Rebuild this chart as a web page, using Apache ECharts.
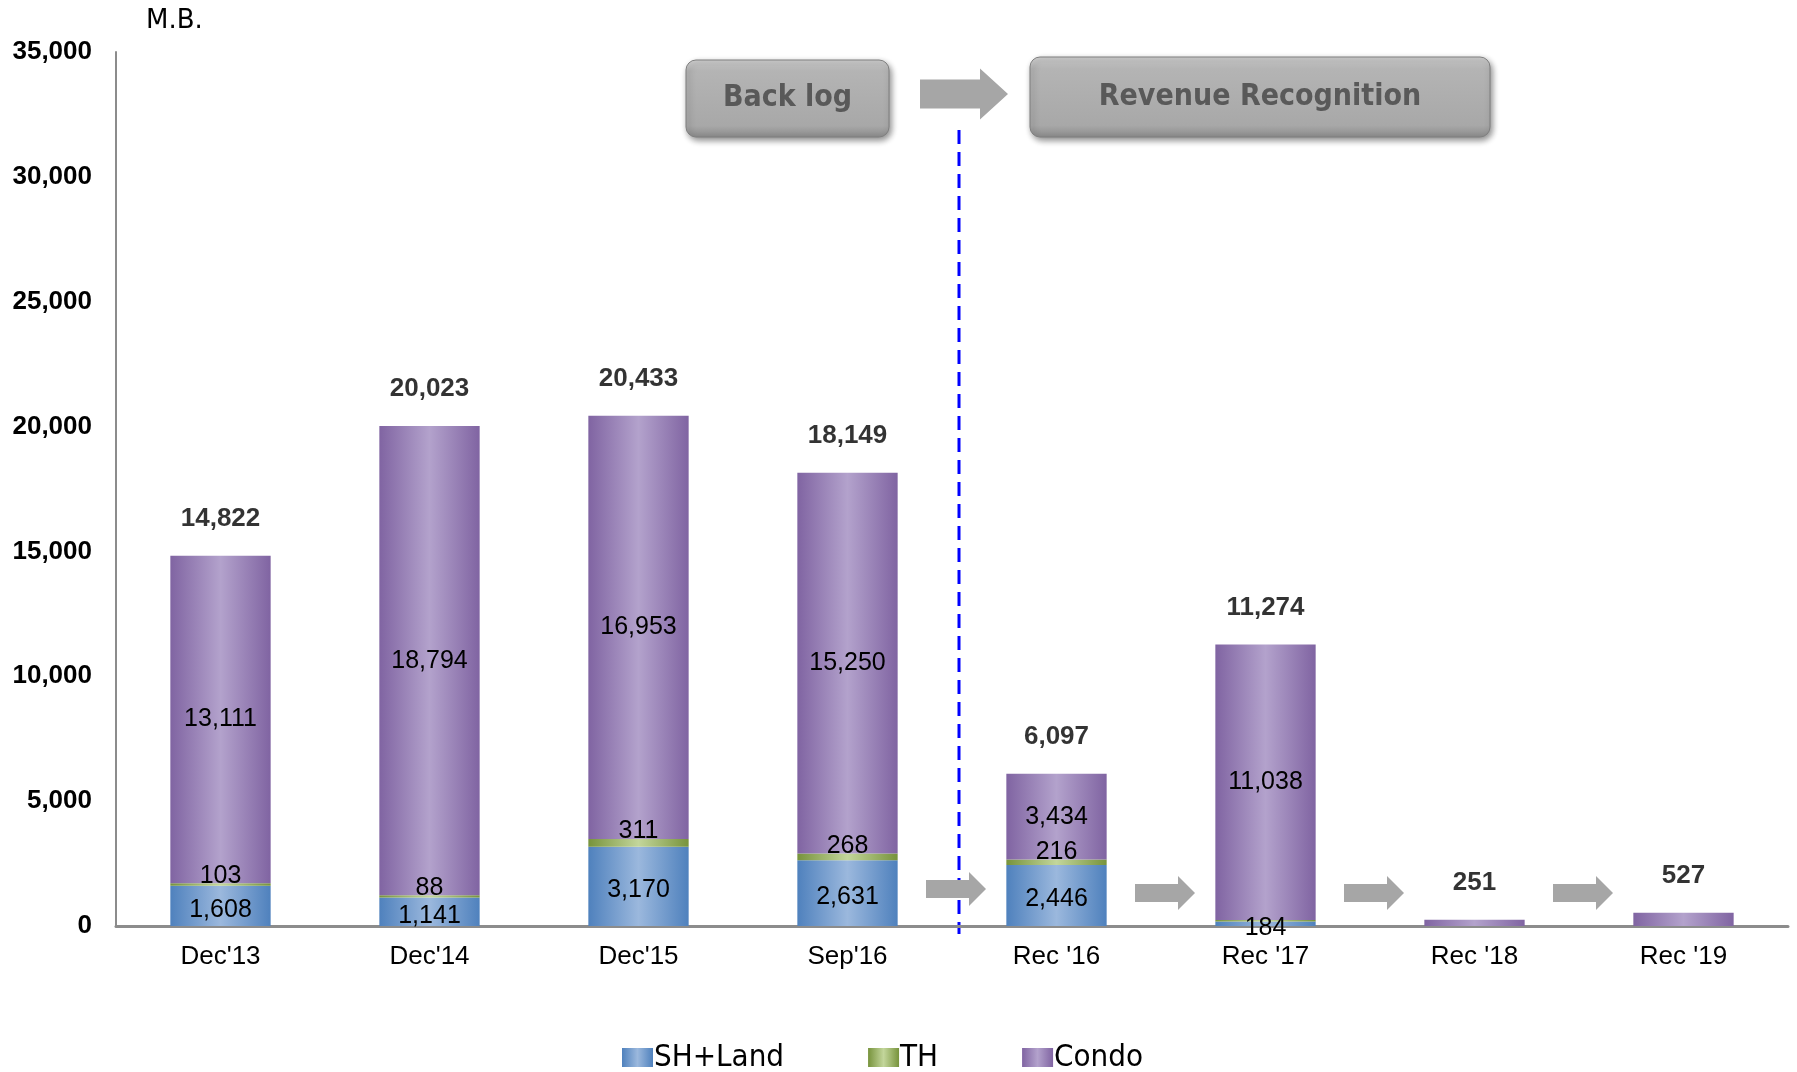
<!DOCTYPE html>
<html>
<head>
<meta charset="utf-8">
<script src="https://cdn.jsdelivr.net/npm/echarts@6/dist/echarts.min.js"></script>
<style>
  html, body { margin: 0; padding: 0; background: #fff; }
  #chart { width: 1797px; height: 1072px; }
</style>
</head>
<body>
<div id="chart"></div>
<script>
const categories = ["Dec'13", "Dec'14", "Dec'15", "Sep'16", "Rec '16", "Rec '17", "Rec '18", "Rec '19"];
const shLand = [1608, 1141, 3170, 2631, 2446, 184, 0, 0];
const th = [103, 88, 311, 268, 216, 52, 0, 0];
const condo = [13111, 18794, 16953, 15250, 3434, 11038, 251, 527];
const totals = [14822, 20023, 20433, 18149, 6097, 11274, 251, 527];
const yMax = 35000;
const yStep = 5000;

const chartDom = document.getElementById('chart');
const myChart = echarts.init(chartDom);

const fmt = v => v.toLocaleString('en-US');
const grad = (edge, mid) => new echarts.graphic.LinearGradient(0, 0, 1, 0, [
  { offset: 0, color: edge },
  { offset: 0.5, color: mid },
  { offset: 1, color: edge }
]);
const FONT = '"Liberation Sans", Arial, sans-serif';

const option = {
  animation: false,
  grid: { left: 116, right: 9, top: 52, bottom: 146 },
  legend: {
    top: 1037,
    left: 617,
    icon: 'rect',
    itemWidth: 31,
    itemHeight: 19,
    itemGap: 84,
    textStyle: { fontFamily: '"DejaVu Sans Condensed", "DejaVu Sans"', fontSize: 31, color: '#000', padding: [0, 0, 0, -4] },
    data: ['SH+Land', 'TH', 'Condo']
  },
  xAxis: {
    type: 'category',
    data: categories,
    axisLine: { lineStyle: { color: '#8c8c8c', width: 3 } },
    axisTick: { show: false },
    axisLabel: { color: '#000', fontSize: 26, fontFamily: FONT, margin: 18 }
  },
  yAxis: {
    type: 'value',
    min: 0,
    max: yMax,
    interval: yStep,
    splitLine: { show: false },
    axisLine: { show: true, lineStyle: { color: '#8c8c8c', width: 2 } },
    axisTick: { show: false },
    axisLabel: { color: '#000', fontSize: 26, fontWeight: 'bold', fontFamily: FONT, margin: 24, formatter: fmt }
  },
  series: [
    {
      name: 'SH+Land',
      type: 'bar',
      stack: 'backlog',
      barWidth: '48%',
      data: shLand,
      itemStyle: { color: grad('#4f81bd', '#9bb8dd') },
      label: {
        show: true, position: 'inside', offset: [0, 4],
        color: '#000', fontSize: 25, fontFamily: FONT,
        formatter: p => (p.value ? fmt(p.value) : '')
      }
    },
    {
      name: 'TH',
      type: 'bar',
      stack: 'backlog',
      data: th,
      itemStyle: { color: grad('#77933c', '#c3d69b') },
      label: {
        show: true, position: 'top', distance: -5,
        color: '#000', fontSize: 25, fontFamily: FONT,
        formatter: p => (p.value > 60 ? fmt(p.value) : '')
      }
    },
    {
      name: 'Condo',
      type: 'bar',
      stack: 'backlog',
      data: condo,
      itemStyle: { color: grad('#8064a2', '#b3a2cc') },
      label: {
        show: true, position: 'inside',
        color: '#000', fontSize: 25, fontFamily: FONT,
        formatter: p => (p.value > 1000 ? fmt(p.value) : '')
      }
    },
    {
      name: 'Total',
      type: 'scatter',
      data: totals,
      symbolSize: 0,
      silent: true,
      label: {
        show: true, position: 'top', distance: 24,
        color: '#000', fontSize: 26, fontWeight: 'bold', fontFamily: FONT,
        formatter: p => fmt(p.value)
      }
    }
  ]
};

option && myChart.setOption(option);

// decorations: phase boxes, arrows and the back log / recognition divider
const px = (i, v) => myChart.convertToPixel({ gridIndex: 0 }, [i, v]);
const step = px(1, 0)[0] - px(0, 0)[0];
const zeroY = px(0, 0)[1];
const divX = px(3, 0)[0] + step / 2 + 7;

const arrow = (cx, cy, len, body, head, headLen) => ({
  type: 'polygon',
  shape: {
    points: [
      [cx - len / 2, cy - body / 2], [cx + len / 2 - headLen, cy - body / 2],
      [cx + len / 2 - headLen, cy - head / 2], [cx + len / 2, cy],
      [cx + len / 2 - headLen, cy + head / 2], [cx + len / 2 - headLen, cy + body / 2],
      [cx - len / 2, cy + body / 2]
    ]
  },
  style: { fill: '#a6a6a6' },
  silent: true
});

const box = (x, y, w, h, text) => ({
  type: 'rect',
  shape: { x: x, y: y, width: w, height: h, r: 10 },
  style: {
    fill: new echarts.graphic.LinearGradient(0, 0, 0, 1, [
      { offset: 0, color: '#d0d0d0' },
      { offset: 0.15, color: '#b4b4b4' },
      { offset: 0.85, color: '#a8a8a8' },
      { offset: 1, color: '#8a8a8a' }
    ]),
    stroke: '#7f7f7f',
    lineWidth: 1,
    shadowBlur: 6,
    shadowOffsetX: 2,
    shadowOffsetY: 3,
    shadowColor: 'rgba(0,0,0,0.45)'
  },
  textContent: {
    style: { text: text, fill: '#595959', fontSize: 30, fontWeight: 'bold', fontFamily: '"DejaVu Sans Condensed", "DejaVu Sans"' }
  },
  textConfig: { position: 'inside' },
  silent: true
});

const graphics = [
  {
    type: 'text', left: 146, top: 8,
    style: { text: 'M.B.', fontSize: 26, fontFamily: '"DejaVu Sans"', fill: '#000' }
  },
  {
    type: 'line',
    shape: { x1: divX, y1: 130, x2: divX, y2: zeroY + 8 },
    style: { stroke: '#0000ff', lineWidth: 3, lineDash: [14, 8] },
    silent: true
  },
  box(686, 60, 203, 77, 'Back log'),
  box(1030, 57, 460, 80, 'Revenue Recognition'),
  arrow(964, 94, 88, 29, 51, 28)
];
[3, 4, 5, 6].forEach((i, k) => {
  const cx = px(i, 0)[0] + step / 2 + 4;
  graphics.push(arrow(cx, k === 0 ? 889 : 893, 60, 18, 34, 17));
});

myChart.setOption({ graphic: graphics });
</script>
</body>
</html>
